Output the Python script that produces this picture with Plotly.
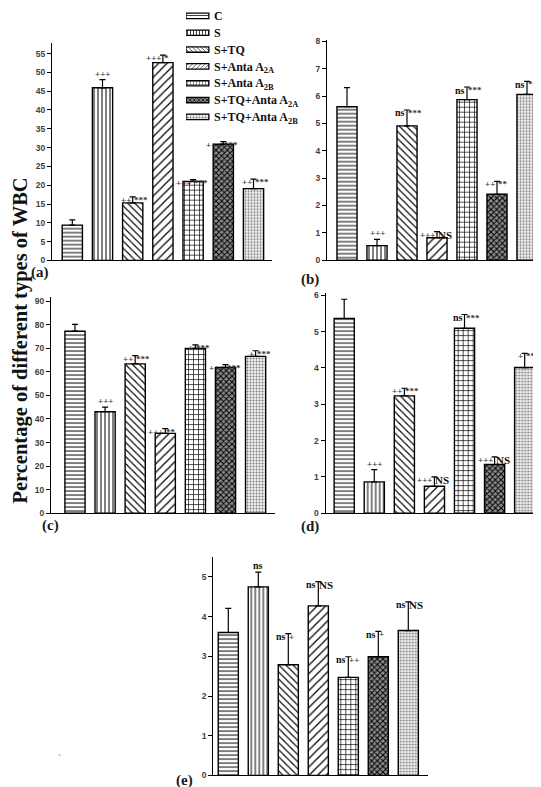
import plotly.graph_objects as go

# ---------------- data ----------------
group_keys = ["C", "S", "S+TQ", "S+A2A", "S+A2B", "S+TQ+A2A", "S+TQ+A2B"]
legend_labels = ["C", "S", "S+TQ", "S+Anta A<sub>2A</sub>", "S+Anta A<sub>2B</sub>",
                 "S+TQ+Anta A<sub>2A</sub>", "S+TQ+Anta A<sub>2B</sub>"]

a_mean = [9.4, 45.9, 15.3, 52.6, 21.0, 30.9, 19.1]
a_err = [1.4, 2.2, 1.6, 2.0, 0.5, 0.7, 2.5]
a_left = ["", "", "++", "+++", "+++", "+++", "++"]
a_right = ["", "", "***", "*", "***", "***", "***"]
a_top = ["", "+++", "", "", "", "", ""]

b_mean = [5.61, 0.53, 4.91, 0.82, 5.87, 2.41, 6.06]
b_err = [0.70, 0.23, 0.58, 0.22, 0.46, 0.47, 0.48]
b_left = ["", "", "ns", "+++", "ns", "++", "ns"]
b_right = ["", "", "***", "NS", "***", "**", "***"]
b_top = ["", "+++", "", "", "", "", ""]

c_mean = [77.3, 43.1, 63.4, 33.9, 70.0, 61.9, 66.6]
c_err = [2.9, 1.9, 3.5, 2.0, 1.5, 1.2, 2.4]
c_left = ["", "", "++", "+++", "+", "+++", "+"]
c_right = ["", "", "***", "**", "***", "***", "***"]
c_top = ["", "+++", "", "", "", "", ""]

d_mean = [5.36, 0.86, 3.23, 0.74, 5.09, 1.34, 4.01]
d_err = [0.53, 0.34, 0.21, 0.26, 0.38, 0.21, 0.39]
d_left = ["", "", "++", "+++", "ns", "+++", "+"]
d_right = ["", "", "***", "NS", "***", "NS", "***"]
d_top = ["", "+++", "", "", "", "", ""]

e_mean = [3.60, 4.75, 2.79, 4.27, 2.47, 2.99, 3.65]
e_err = [0.61, 0.37, 0.78, 0.61, 0.52, 0.64, 0.72]
e_left = ["", "", "ns", "ns", "ns", "ns", "ns"]
e_right = ["", "", "+", "NS", "++", "+", "NS"]
e_top = ["", "ns", "", "", "", "", ""]

y_title = "Percentage of different types of WBC"

# ---------------- styles ----------------
W, H = 541, 787
pat_shape = ["-", "|", "\\", "/", "+", "x", "."]
pat_size = [4, 4, 5, 6, 5, 4, 3]
pat_solid = [0.25, 0.25, 0.22, 0.2, 0.25, 0.45, 0.35]
pat_fg = ["black", "black", "black", "black", "black", "black", "#777777"]
pat_bg = ["white", "white", "white", "white", "white", "#8c8c8c", "#f4f4f4"]

serif = "Liberation Serif"
sans = "Liberation Sans"


def fx(p):
    return p / W


def fy(p):
    return 1 - p / H


panels = [
    dict(lab="(a)", lab_xy=(32, 264), mean=a_mean, err=a_err, left=a_left, right=a_right, top=a_top,
         x0=44, x1=264, c0=64.3, step=30.2, ytop=32, yzero=252, ymax=57.9, dtick=5),
    dict(lab="(b)", lab_xy=(302, 271), mean=b_mean, err=b_err, left=b_left, right=b_right, top=b_top,
         x0=319, x1=538, c0=339, step=30.0, ytop=29, yzero=251.7, ymax=8.06, dtick=1),
    dict(lab="(c)", lab_xy=(42, 520), mean=c_mean, err=c_err, left=c_left, right=c_right, top=c_top,
         x0=43, x1=267, c0=67, step=30.1, ytop=289, yzero=507.3, ymax=91.8, dtick=10),
    dict(lab="(d)", lab_xy=(302, 521), mean=d_mean, err=d_err, left=d_left, right=d_right, top=d_top,
         x0=317.7, x1=538, c0=336.2, step=30.08, ytop=285, yzero=507.3, ymax=6.06, dtick=1),
    dict(lab="(e)", lab_xy=(176, 777), mean=e_mean, err=e_err, left=e_left, right=e_right, top=e_top,
         x0=205.3, x1=420, c0=220.3, step=30.0, ytop=551.7, yzero=772.3, ymax=5.5, dtick=1),
]

fig = go.Figure()
annotations = []
layout = {}


def mark_font(t):
    if t in ("NS",):
        return dict(family=serif, size=11, color="#111", weight="bold")
    if t in ("ns",):
        return dict(family=serif, size=10, color="#111", weight="bold")
    return dict(family=serif, size=9, color="#333", weight="bold")


for k, p in enumerate(panels):
    n = "" if k == 0 else str(k + 1)
    xa, ya = "x" + n, "y" + n
    fig.add_trace(go.Bar(
        x=group_keys, y=p["mean"], xaxis=xa, yaxis=ya, width=0.67, showlegend=False,
        marker=dict(color="white", line=dict(color="black", width=1.4),
                    pattern=dict(shape=pat_shape, size=pat_size, solidity=pat_solid,
                                 fgcolor=pat_fg, bgcolor=pat_bg, fillmode="replace")),
        error_y=dict(type="data", array=p["err"], arrayminus=[0] * len(p["err"]), symmetric=False,
                     color="black", thickness=1.2, width=3),
    ))
    layout["xaxis" + n] = dict(
        domain=[fx(p["x0"]), fx(p["x1"])], anchor=ya, type="category",
        categoryorder="array", categoryarray=group_keys,
        range=[(p["x0"] - p["c0"]) / p["step"], (p["x1"] - p["c0"]) / p["step"]],
        showticklabels=False, ticks="", showline=True, linecolor="black", linewidth=1.3,
        showgrid=False, zeroline=False, fixedrange=True)
    layout["yaxis" + n] = dict(
        domain=[fy(p["yzero"]), fy(p["ytop"])], anchor=xa, range=[0, p["ymax"]],
        dtick=p["dtick"], tick0=0, ticks="outside", ticklen=4, tickwidth=1, tickcolor="black",
        showline=True, linecolor="black", linewidth=1.3, showgrid=False, zeroline=False,
        tickfont=dict(family=sans, size=8.5, color="#404040", weight="bold"), fixedrange=True)
    for i, g in enumerate(group_keys):
        tp = p["mean"][i] + p["err"][i]
        if p["top"][i]:
            annotations.append(dict(x=g, y=tp, xref=xa, yref=ya, text=p["top"][i], showarrow=False,
                                    xanchor="center", yanchor="bottom", yshift=0, borderpad=0,
                                    font=mark_font(p["top"][i])))
        if p["left"][i]:
            annotations.append(dict(x=g, y=tp, xref=xa, yref=ya, text=p["left"][i], showarrow=False,
                                    xanchor="right", yanchor="middle", xshift=-1, yshift=-3,
                                    borderpad=0, font=mark_font(p["left"][i])))
        if p["right"][i]:
            annotations.append(dict(x=g, y=tp, xref=xa, yref=ya, text=p["right"][i], showarrow=False,
                                    xanchor="left", yanchor="middle", xshift=0, yshift=-3,
                                    borderpad=0, font=mark_font(p["right"][i])))
    lx, ly = p["lab_xy"]
    annotations.append(dict(x=fx(lx), y=fy(ly), xref="paper", yref="paper", text="<b>%s</b>" % p["lab"],
                            showarrow=False, xanchor="center", yanchor="middle",
                            font=dict(family=serif, size=15, color="#1a1a1a")))

# legend key drawn as a small horizontal-bar panel
fig.add_trace(go.Bar(
    y=legend_labels, x=[1] * len(legend_labels), orientation="h", xaxis="x6", yaxis="y6",
    width=0.32, showlegend=False, hoverinfo="skip",
    marker=dict(color="white", line=dict(color="black", width=1.3),
                pattern=dict(shape=pat_shape, size=[3] * 7, solidity=pat_solid,
                             fgcolor=pat_fg, bgcolor=pat_bg, fillmode="replace")),
))
layout["xaxis6"] = dict(domain=[fx(178), fx(205)], anchor="y6", range=[0, 1.18], visible=False,
                        fixedrange=True)
layout["yaxis6"] = dict(domain=[fy(115), 1.0], anchor="x6", side="right", type="category",
                        categoryorder="array", categoryarray=legend_labels,
                        range=[6.47, -0.29], showline=False, ticks="", showgrid=False,
                        zeroline=False, fixedrange=True,
                        tickfont=dict(family=serif, size=12, color="#111", weight="bold"))

annotations.append(dict(x=fx(13), y=fy(333), xref="paper", yref="paper", text="<b>%s</b>" % y_title,
                        textangle=-90, showarrow=False, xanchor="center", yanchor="middle",
                        borderpad=0, font=dict(family=serif, size=20.5, color="#111")))
annotations.append(dict(x=fx(48), y=fy(762), xref="paper", yref="paper", text="`",
                        showarrow=False, font=dict(family=serif, size=9, color="#555")))

fig.update_layout(
    width=W, height=H, margin=dict(l=0, r=0, t=0, b=0),
    paper_bgcolor="white", plot_bgcolor="white",
    barmode="overlay", annotations=annotations, **layout,
)

fig.write_html("out.html")
